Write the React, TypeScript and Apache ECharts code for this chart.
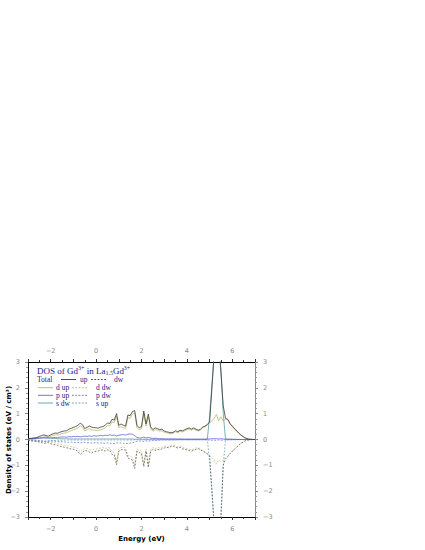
import React, { useEffect, useRef } from "react";
import * as echarts from "echarts";

const energy = [
  -3.0, -2.9, -2.8, -2.7, -2.6, -2.5, -2.4, -2.3, -2.2, -2.1,
  -2.0, -1.9, -1.8, -1.7, -1.6, -1.5, -1.4, -1.3, -1.2, -1.1,
  -1.0, -0.9, -0.8, -0.7, -0.6, -0.5, -0.4, -0.3, -0.2, -0.1,
  0.0, 0.1, 0.2, 0.3, 0.4, 0.5, 0.6, 0.7, 0.8, 0.9,
  1.0, 1.1, 1.2, 1.3, 1.4, 1.5, 1.6, 1.7, 1.8, 1.9,
  2.0, 2.1, 2.2, 2.3, 2.4, 2.5, 2.6, 2.7, 2.8, 2.9,
  3.0, 3.1, 3.2, 3.3, 3.4, 3.5, 3.6, 3.7, 3.8, 3.9,
  4.0, 4.1, 4.2, 4.3, 4.4, 4.5, 4.6, 4.7, 4.8, 4.9,
  5.0, 5.1, 5.2, 5.3, 5.4, 5.5, 5.6, 5.7, 5.8, 5.9,
  6.0, 6.1, 6.2, 6.3, 6.4, 6.5, 6.6, 6.7, 6.8, 6.9,
  7.0,
];

const totalUp = [
  0.03, 0.04, 0.05, 0.06, 0.08, 0.12, 0.15, 0.18, 0.15, 0.13,
  0.18, 0.22, 0.25, 0.24, 0.28, 0.31, 0.33, 0.34, 0.40, 0.43,
  0.47, 0.50, 0.55, 0.63, 0.57, 0.42, 0.47, 0.52, 0.48, 0.46,
  0.45, 0.44, 0.48, 0.50, 0.55, 0.64, 0.62, 0.78, 0.75, 1.00,
  0.55, 0.60, 0.55, 0.52, 0.95, 0.92, 1.08, 1.12, 0.55, 0.45,
  0.50, 1.10, 0.60, 0.98, 0.50, 0.38, 0.45, 0.42, 0.38, 0.40,
  0.33, 0.30, 0.28, 0.26, 0.28, 0.34, 0.30, 0.36, 0.33, 0.38,
  0.42, 0.45, 0.40, 0.45, 0.40, 0.36, 0.40, 0.48, 0.52, 0.58,
  0.68, 1.95, 3.30, 4.50, 3.80, 2.60, 1.30, 0.82, 0.78, 0.62,
  0.52, 0.42, 0.33, 0.24, 0.16, 0.10, 0.05, 0.02, 0.01, 0.00,
  0.00,
];

const totalDw = [
  -0.03, -0.05, -0.06, -0.07, -0.08, -0.10, -0.12, -0.15, -0.13, -0.12,
  -0.16, -0.20, -0.20, -0.23, -0.26, -0.28, -0.30, -0.32, -0.34, -0.37,
  -0.38, -0.40, -0.46, -0.58, -0.50, -0.42, -0.44, -0.48, -0.52, -0.47,
  -0.46, -0.44, -0.42, -0.40, -0.45, -0.40, -0.42, -0.58, -0.60, -0.98,
  -0.45, -0.40, -0.38, -0.42, -0.72, -0.75, -0.80, -1.12, -0.45, -0.50,
  -0.55, -1.05, -0.45, -1.08, -0.48, -0.38, -0.42, -0.38, -0.40, -0.36,
  -0.33, -0.30, -0.32, -0.27, -0.26, -0.30, -0.33, -0.30, -0.36, -0.38,
  -0.40, -0.43, -0.45, -0.42, -0.38, -0.36, -0.40, -0.46, -0.50, -0.56,
  -0.64, -1.90, -3.30, -4.50, -3.80, -3.10, -1.00, -0.75, -0.66, -0.55,
  -0.46, -0.37, -0.29, -0.21, -0.14, -0.09, -0.04, -0.02, -0.01, 0.00,
  0.00,
];

const dUp = [
  0.01, 0.02, 0.02, 0.03, 0.04, 0.06, 0.08, 0.10, 0.09, 0.08,
  0.12, 0.15, 0.18, 0.17, 0.20, 0.23, 0.25, 0.26, 0.31, 0.34,
  0.38, 0.41, 0.45, 0.53, 0.47, 0.33, 0.38, 0.42, 0.38, 0.36,
  0.35, 0.35, 0.38, 0.40, 0.45, 0.54, 0.52, 0.68, 0.65, 0.90,
  0.46, 0.50, 0.46, 0.43, 0.85, 0.82, 0.98, 1.02, 0.46, 0.37,
  0.42, 1.00, 0.52, 0.88, 0.42, 0.32, 0.38, 0.36, 0.32, 0.34,
  0.28, 0.26, 0.24, 0.22, 0.24, 0.30, 0.26, 0.32, 0.29, 0.34,
  0.38, 0.41, 0.36, 0.41, 0.36, 0.33, 0.37, 0.45, 0.50, 0.56,
  0.64, 0.72, 0.82, 0.97, 0.72, 0.88, 0.72, 0.80, 0.76, 0.60,
  0.50, 0.40, 0.31, 0.22, 0.15, 0.09, 0.04, 0.02, 0.01, 0.00,
  0.00,
];

const dDw = [
  -0.01, -0.02, -0.02, -0.03, -0.04, -0.05, -0.06, -0.08, -0.07, -0.07,
  -0.10, -0.13, -0.13, -0.15, -0.18, -0.20, -0.22, -0.24, -0.26, -0.28,
  -0.29, -0.31, -0.37, -0.48, -0.41, -0.33, -0.35, -0.39, -0.42, -0.38,
  -0.37, -0.35, -0.33, -0.31, -0.36, -0.31, -0.33, -0.48, -0.50, -0.86,
  -0.36, -0.31, -0.29, -0.33, -0.62, -0.65, -0.70, -1.00, -0.37, -0.41,
  -0.46, -0.95, -0.37, -0.97, -0.41, -0.31, -0.35, -0.31, -0.33, -0.30,
  -0.27, -0.25, -0.27, -0.22, -0.21, -0.25, -0.28, -0.25, -0.31, -0.33,
  -0.35, -0.38, -0.40, -0.37, -0.33, -0.32, -0.36, -0.43, -0.48, -0.54,
  -0.62, -0.70, -0.80, -0.95, -0.80, -0.86, -0.78, -0.72, -0.64, -0.54,
  -0.45, -0.36, -0.28, -0.20, -0.13, -0.08, -0.03, -0.02, -0.01, 0.00,
  0.00,
];

const pUp = [
  0.02, 0.02, 0.03, 0.03, 0.04, 0.05, 0.05, 0.06, 0.05, 0.05,
  0.06, 0.07, 0.08, 0.07, 0.09, 0.10, 0.10, 0.09, 0.11, 0.10,
  0.12, 0.11, 0.12, 0.10, 0.12, 0.13, 0.12, 0.14, 0.12, 0.15,
  0.13, 0.14, 0.16, 0.14, 0.17, 0.15, 0.18, 0.16, 0.17, 0.14,
  0.16, 0.18, 0.19, 0.17, 0.20, 0.22, 0.20, 0.15, 0.08, 0.06,
  0.07, 0.09, 0.06, 0.08, 0.06, 0.04, 0.05, 0.04, 0.03, 0.03,
  0.02, 0.02, 0.02, 0.02, 0.02, 0.02, 0.01, 0.02, 0.01, 0.01,
  0.01, 0.01, 0.01, 0.01, 0.01, 0.01, 0.01, 0.01, 0.01, 0.02,
  0.02, 0.03, 0.03, 0.03, 0.02, 0.03, 0.02, 0.01, 0.01, 0.01,
  0.01, 0.01, 0.01, 0.00, 0.00, 0.00, 0.00, 0.00, 0.00, 0.00,
  0.00,
];

const pDw = [
  -0.02, -0.02, -0.02, -0.03, -0.03, -0.04, -0.05, -0.05, -0.06, -0.05,
  -0.05, -0.06, -0.07, -0.08, -0.08, -0.09, -0.10, -0.10, -0.11, -0.10,
  -0.11, -0.12, -0.11, -0.13, -0.12, -0.11, -0.13, -0.12, -0.14, -0.13,
  -0.12, -0.14, -0.13, -0.15, -0.14, -0.13, -0.15, -0.14, -0.16, -0.13,
  -0.14, -0.13, -0.15, -0.16, -0.15, -0.14, -0.13, -0.10, -0.07, -0.06,
  -0.06, -0.08, -0.05, -0.07, -0.05, -0.04, -0.04, -0.03, -0.03, -0.02,
  -0.02, -0.02, -0.02, -0.02, -0.02, -0.02, -0.01, -0.01, -0.01, -0.01,
  -0.01, -0.01, -0.01, -0.01, -0.01, -0.01, -0.01, -0.01, -0.01, -0.02,
  -0.02, -0.03, -0.03, -0.03, -0.02, -0.03, -0.02, -0.01, -0.01, -0.01,
  -0.01, -0.01, -0.01, 0.00, 0.00, 0.00, 0.00, 0.00, 0.00, 0.00,
  0.00,
];

const sDw = [
  0.04, 0.04, 0.05, 0.05, 0.06, 0.06, 0.07, 0.08, 0.09, 0.07,
  0.05, 0.04, 0.04, 0.03, 0.03, 0.03, 0.03, 0.03, 0.02, 0.02,
  0.02, 0.02, 0.02, 0.02, 0.02, 0.02, 0.02, 0.02, 0.02, 0.02,
  0.02, 0.02, 0.02, 0.02, 0.02, 0.02, 0.02, 0.02, 0.02, 0.02,
  0.02, 0.02, 0.02, 0.02, 0.02, 0.02, 0.02, 0.01, 0.01, 0.01,
  0.01, 0.01, 0.01, 0.01, 0.01, 0.01, 0.01, 0.01, 0.01, 0.01,
  0.01, 0.01, 0.01, 0.01, 0.01, 0.01, 0.01, 0.01, 0.01, 0.01,
  0.01, 0.01, 0.01, 0.01, 0.01, 0.01, 0.01, 0.01, 0.01, 0.01,
  0.90, 2.10, 3.30, 4.30, 3.60, 2.70, 1.00, 0.02, 0.01, 0.01,
  0.00, 0.00, 0.00, 0.00, 0.00, 0.00, 0.00, 0.00, 0.00, 0.00,
  0.00,
];

const sUp = [
  -0.04, -0.04, -0.05, -0.05, -0.06, -0.07, -0.07, -0.08, -0.09, -0.07,
  -0.05, -0.04, -0.04, -0.03, -0.03, -0.03, -0.03, -0.02, -0.02, -0.02,
  -0.02, -0.02, -0.02, -0.02, -0.02, -0.02, -0.02, -0.02, -0.02, -0.02,
  -0.02, -0.02, -0.02, -0.02, -0.02, -0.02, -0.02, -0.02, -0.02, -0.02,
  -0.02, -0.02, -0.02, -0.02, -0.02, -0.02, -0.02, -0.01, -0.01, -0.01,
  -0.01, -0.01, -0.01, -0.01, -0.01, -0.01, -0.01, -0.01, -0.01, -0.01,
  -0.01, -0.01, -0.01, -0.01, -0.01, -0.01, -0.01, -0.01, -0.01, -0.01,
  -0.01, -0.01, -0.01, -0.01, -0.01, -0.01, -0.01, -0.01, -0.01, -0.01,
  -0.85, -2.00, -3.30, -4.30, -3.60, -2.90, -1.00, -0.02, -0.01, -0.01,
  0.00, 0.00, 0.00, 0.00, 0.00, 0.00, 0.00, 0.00, 0.00, 0.00,
  0.00,
];

const C_TOTAL = "#3a3a3a";
const C_D = "#bdb76b";
const C_P = "#6464e0";
const C_S = "#5f9ea0";
const C_TEXT = "#22228a";
const DASH = [1.8, 1.5];
const SERIF = "Liberation Serif";

const minus = (v: number) => String(v).replace("-", "\u2212");

export default function App() {
  const ref = useRef<HTMLDivElement>(null);

  useEffect(() => {
    const chart = echarts.init(ref.current!, null, { renderer: "svg" });
    const pair = (arr: number[]) => energy.map((e, i) => [e, arr[i]]);
    const mk = (name: string, arr: number[], color: string, dashed: boolean, z: number) => ({
      type: "line",
      name,
      data: pair(arr),
      symbol: "none",
      clip: true,
      z,
      lineStyle: { color, width: dashed ? 0.7 : 0.8, type: dashed ? DASH : "solid" },
    });

    const labelStyle = { color: "#888", fontSize: 6.5, fontFamily: "DejaVu Sans", margin: 8 };
    const xBase = (pos: string) => ({
      type: "value",
      position: pos,
      min: -3,
      max: 7,
      interval: 1,
      axisLine: { show: true, onZero: false, lineStyle: { color: "#000", width: 1 } },
      axisTick: { show: true, length: 3, lineStyle: { color: "#333" } },
      minorTick: { show: true, splitNumber: 2, length: 2, lineStyle: { color: "#333" } },
      splitLine: { show: false },
      axisLabel: { ...labelStyle, formatter: (v: number) => (Math.round(v) % 2 === 0 ? minus(v) : "") },
    });
    const yBase = (pos: string, lineColor: string) => ({
      type: "value",
      position: pos,
      min: -3,
      max: 3,
      interval: 1,
      axisLine: { show: true, onZero: false, lineStyle: { color: lineColor, width: 1 } },
      axisTick: { show: true, length: 3, lineStyle: { color: "#888" } },
      minorTick: { show: true, splitNumber: 5, length: 2, lineStyle: { color: "#999" } },
      splitLine: { show: false },
      axisLabel: { ...labelStyle, formatter: (v: number) => minus(v) },
    });

    const txt = (text: string, x: number, y: number, size: number) => ({
      type: "text",
      x,
      y,
      style: { text, fill: C_TEXT, fontSize: size, fontFamily: SERIF, verticalAlign: "middle" },
    });
    const rowLine = (x1: number, x2: number, y: number, color: string, dashed: boolean) => ({
      type: "line",
      shape: { x1, y1: y, x2, y2: y },
      style: { stroke: color, lineWidth: 0.9, lineDash: dashed ? DASH : null },
    });

    const rows = [
      { y: 387.7, color: C_D, a: "d up", b: "d dw" },
      { y: 395.3, color: C_P, a: "p up", b: "p dw" },
      { y: 403, color: C_S, a: "s dw", b: "s up" },
    ];

    // Title: DOS of Gd3+ in La1.5Gd3+ (Times metrics for positioning pieces)
    const M = 9;
    const S = 6;
    const ty = 370.5;
    const x0 = 37;
    const x1 = x0 + 4.555 * M;
    const x2 = x1 + 1.064 * S;
    const x3 = x2 + 2.333 * M;
    const x4 = x3 + 1.25 * S;
    const x5 = x4 + 1.222 * M;

    const graphic: any[] = [
      txt("DOS of Gd", x0, ty, M),
      txt("3+", x1, ty - 3, S),
      txt(" in La", x2, ty, M),
      txt("1.5", x3, ty + 2.5, S),
      txt("Gd", x4, ty, M),
      txt("3+", x5, ty - 3, S),
      txt("Total", 37, 379.5, 7.5),
      rowLine(61, 76, 379.5, C_TOTAL, false),
      txt("up", 80, 379.5, 7.5),
      rowLine(91, 106, 379.5, C_TOTAL, true),
      txt("dw", 114, 379.5, 7.5),
      {
        type: "text",
        x: 8.5,
        y: 440,
        rotation: Math.PI / 2,
        style: {
          text: "Density of states (eV / cm\u00b3)",
          fill: "#000",
          fontSize: 7,
          fontWeight: "bold",
          fontFamily: "DejaVu Sans",
          align: "center",
          verticalAlign: "middle",
        },
      },
    ];
    rows.forEach((r) => {
      graphic.push(rowLine(38, 53, r.y, r.color, false));
      graphic.push(txt(r.a, 56, r.y, 7.5));
      graphic.push(rowLine(72, 87, r.y, r.color, true));
      graphic.push(txt(r.b, 96, r.y, 7.5));
    });

    chart.setOption({
      animation: false,
      grid: { left: 28, right: 170, top: 362, bottom: 33, containLabel: false, outerBoundsMode: "none" },
      xAxis: [
        {
          ...xBase("bottom"),
          name: "Energy (eV)",
          nameLocation: "middle",
          nameGap: 18,
          nameMoveOverlap: false,
          nameTextStyle: { fontWeight: "bold", fontSize: 7, color: "#000", fontFamily: "DejaVu Sans" },
        },
        xBase("top"),
      ],
      yAxis: [yBase("left", "#000"), yBase("right", "#888")],
      graphic,
      series: [
        mk("d up", dUp, C_D, false, 2),
        mk("d dw", dDw, C_D, true, 2),
        mk("s dw", sDw, C_S, false, 3),
        mk("s up", sUp, C_S, true, 3),
        mk("p up", pUp, C_P, false, 4),
        mk("p dw", pDw, C_P, true, 4),
        mk("Total up", totalUp, C_TOTAL, false, 5),
        mk("Total dw", totalDw, "#4a4a4a", true, 5),
      ],
    });
    return () => chart.dispose();
  }, []);

  return <div ref={ref} style={{ position: "absolute", left: 0, top: 0, width: 425, height: 550 }} />;
}
